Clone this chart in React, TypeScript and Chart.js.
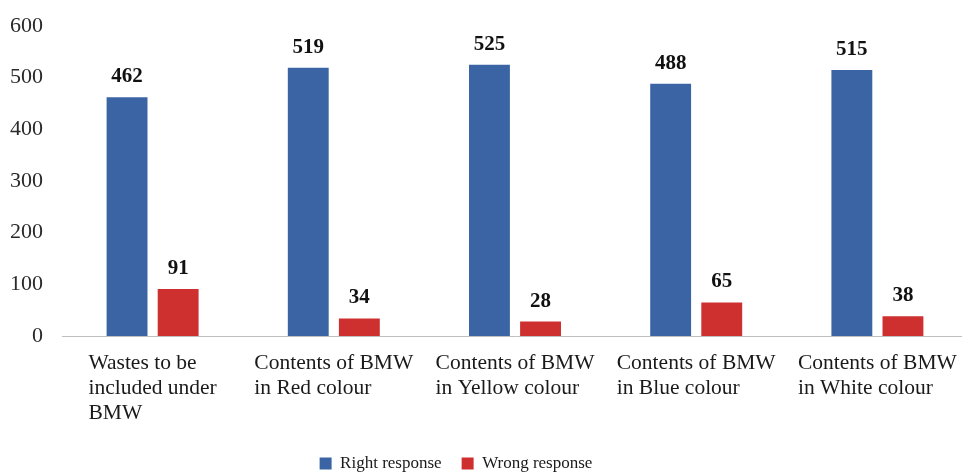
import { useEffect, useRef } from 'react';
import { Chart, registerables } from 'chart.js';

Chart.register(...registerables);

const categories: string[][] = [
  ['Wastes to be', 'included under', 'BMW'],
  ['Contents of BMW', 'in Red colour'],
  ['Contents of BMW', 'in Yellow colour'],
  ['Contents of BMW', 'in Blue colour'],
  ['Contents of BMW', 'in White colour'],
];
const seriesNames = ['Right response', 'Wrong response'];
const rightResponse = [462, 519, 525, 488, 515];
const wrongResponse = [91, 34, 28, 65, 38];
const yMin = 0;
const yMax = 600;
const yStep = 100;

const FONT = '"Liberation Serif", "Times New Roman", serif';
const BLUE = '#3A64A3';
const RED = '#CE2F2F';

const LEGEND_CENTER_X = 456;
const LEGEND_SHIFT_Y = 10;

export default function App() {
  const ref = useRef<HTMLCanvasElement | null>(null);

  useEffect(() => {
    if (!ref.current) return;

    const dataLabels = {
      id: 'dataLabels',
      afterDatasetsDraw(chart: any) {
        const ctx = chart.ctx;
        ctx.save();
        ctx.font = `bold 21px ${FONT}`;
        ctx.fillStyle = '#111';
        ctx.textAlign = 'center';
        ctx.textBaseline = 'alphabetic';
        chart.data.datasets.forEach((ds: any, di: number) => {
          const meta = chart.getDatasetMeta(di);
          meta.data.forEach((el: any, i: number) => {
            ctx.fillText(String(ds.data[i]), el.x, el.y - 15);
          });
        });
        ctx.restore();
      },
    };

    const xLabels = {
      id: 'xLabels',
      afterDraw(chart: any) {
        const ctx = chart.ctx;
        const xs = chart.scales.x;
        ctx.save();
        ctx.font = `21.5px ${FONT}`;
        ctx.fillStyle = '#1a1a1a';
        ctx.textAlign = 'left';
        ctx.textBaseline = 'middle';
        categories.forEach((lines, i) => {
          const cx = xs.getPixelForValue(i);
          const w = Math.max(...lines.map((l) => ctx.measureText(l).width));
          const left = cx - w / 2;
          lines.forEach((l, j) => ctx.fillText(l, left, xs.top + 27 + j * 25));
        });
        ctx.restore();
      },
    };

    const legendPlace = {
      id: 'legendPlace',
      afterLayout(chart: any) {
        const lg = chart.legend;
        if (!lg) return;
        lg.left = 0;
        lg.right = LEGEND_CENTER_X * 2;
        lg.top += LEGEND_SHIFT_Y;
        lg.bottom += LEGEND_SHIFT_Y;
      },
    };

    const chart = new Chart(ref.current, {
      type: 'bar',
      data: {
        labels: categories,
        datasets: [
          {
            label: seriesNames[0],
            data: rightResponse,
            backgroundColor: BLUE,
            categoryPercentage: 0.564,
            barPercentage: 0.8,
          },
          {
            label: seriesNames[1],
            data: wrongResponse,
            backgroundColor: RED,
            categoryPercentage: 0.564,
            barPercentage: 0.8,
          },
        ],
      },
      options: {
        responsive: false,
        animation: false,
        layout: { padding: { top: 26, left: 10, right: 2, bottom: 0 } },
        plugins: {
          legend: {
            position: 'bottom',
            labels: {
              font: { family: FONT, size: 17 },
              color: '#1a1a1a',
              boxWidth: 12,
              boxHeight: 12,
              padding: 20,
            },
          },
          tooltip: { enabled: false },
          title: { display: false },
        },
        scales: {
          x: {
            grid: { display: false, drawTicks: false },
            border: { display: true, color: '#BFBFBF', width: 1 },
            ticks: {
              color: 'rgba(0,0,0,0)',
              font: { family: FONT, size: 21, lineHeight: 27 / 21 },
              padding: 4,
              maxRotation: 0,
              autoSkip: false,
              callback: () => ['', '', ''],
            },
          },
          y: {
            min: yMin,
            max: yMax,
            grid: { display: false, drawTicks: false },
            border: { display: false },
            ticks: {
              stepSize: yStep,
              color: '#2a2a2a',
              font: { family: FONT, size: 22 },
              padding: 19,
            },
            afterFit: (scale: any) => {
              scale.width = scale.width - 19;
              scale.paddingTop = 0;
              scale.paddingBottom = 0;
            },
          },
        },
      },
      plugins: [dataLabels, xLabels, legendPlace],
    });

    return () => chart.destroy();
  }, []);

  return (
    <div
      style={{
        position: 'absolute',
        left: 0,
        top: 0,
        width: 962,
        height: 472,
        overflow: 'hidden',
        background: '#fff',
      }}
    >
      <canvas ref={ref} width={970} height={472} style={{ width: 970, height: 472, display: 'block' }} />
    </div>
  );
}
